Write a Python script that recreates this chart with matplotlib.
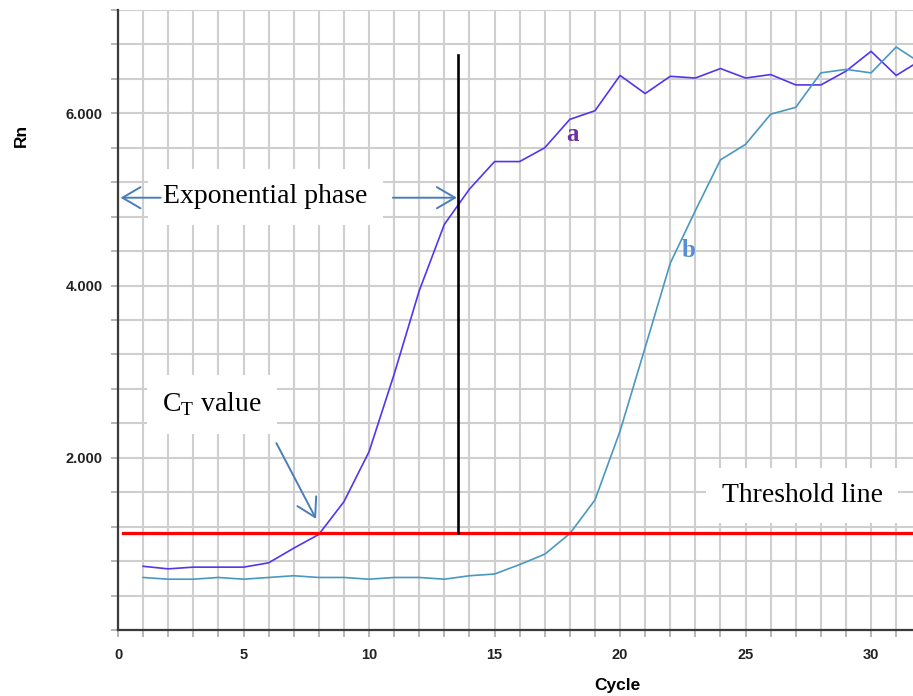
import numpy as np
import matplotlib
matplotlib.use('Agg')
import matplotlib.pyplot as plt
from matplotlib.ticker import MultipleLocator, FixedLocator, FixedFormatter

#%% data
cycles = np.arange(1, 33)
rn_a = [0.74, 0.71, 0.73, 0.73, 0.73, 0.78, 0.95, 1.11, 1.49, 2.07,
        2.97, 3.94, 4.71, 5.12, 5.44, 5.44, 5.60, 5.93, 6.03, 6.44,
        6.23, 6.43, 6.41, 6.52, 6.41, 6.45, 6.33, 6.33, 6.49, 6.72,
        6.44, 6.62]
rn_b = [0.61, 0.59, 0.59, 0.61, 0.59, 0.61, 0.63, 0.61, 0.61, 0.59,
        0.61, 0.61, 0.59, 0.63, 0.65, 0.76, 0.88, 1.12, 1.51, 2.31,
        3.28, 4.26, 4.87, 5.46, 5.64, 5.99, 6.07, 6.47, 6.51, 6.47,
        6.77, 6.58]
threshold = 1.13
ct_cut = 13.56
ct_top = 6.68
y_labels = ['2.000', '4.000', '6.000']
y_label_pos = [2, 4, 6]

serif = 'Liberation Serif'
plt.rcParams['font.family'] = ['Liberation Sans', 'DejaVu Sans']
plt.rcParams['mathtext.fontset'] = 'custom'
plt.rcParams['mathtext.rm'] = serif

fig = plt.figure(figsize=(9.13, 6.96), dpi=100)
ax = fig.add_axes([118/913, 1-630/696, 795/913, 620/696])

ax.plot(cycles, rn_a, color='#5236ee', lw=1.2, zorder=3)
ax.plot(cycles, rn_b, color='#4a98c2', lw=1.2, zorder=3)
ax.plot([0.2, 33], [threshold, threshold], color='#ff0000', lw=2.3, zorder=4)
ax.plot([ct_cut, ct_cut], [threshold, ct_top], color='black', lw=1.9, zorder=4)

ax.set_xlim(0, 31.67)
ax.set_ylim(0, 7.2)

ax.xaxis.set_major_locator(MultipleLocator(5))
ax.xaxis.set_minor_locator(MultipleLocator(1))
ax.yaxis.set_major_locator(FixedLocator(y_label_pos))
ax.yaxis.set_major_formatter(FixedFormatter(y_labels))
ax.yaxis.set_minor_locator(MultipleLocator(0.4))
ax.grid(which='both', color='#cfcfcf', lw=1.5, zorder=0)
ax.set_axisbelow(True)

for s in ['top', 'right']:
    ax.spines[s].set_visible(False)
for s in ['left', 'bottom']:
    ax.spines[s].set_color('#3a3a3a')
    ax.spines[s].set_linewidth(1.6)
ax.tick_params(which='both', length=5, width=1.2, color='#aaaaaa')
ax.tick_params(axis='x', pad=8, labelsize=10.5, labelcolor='#222222')
ax.tick_params(axis='y', pad=6, labelsize=10.5, labelcolor='#222222')
for lab in ax.get_xticklabels() + ax.get_yticklabels():
    lab.set_fontweight('bold')

ax.set_xlabel('Cycle', fontsize=12.5, fontweight='bold', va='center')
ax.xaxis.set_label_coords(0.628, -0.09)
ax.set_ylabel('Rn', fontsize=12.5, fontweight='bold', va='center')
ax.yaxis.set_label_coords(-0.121, 0.798)

box = dict(boxstyle='square,pad=0.55', facecolor='white', edgecolor='none')
arrow_c = '#4a7ebb'
aprops = dict(arrowstyle='->,head_length=0.65,head_width=0.38', color=arrow_c,
              lw=1.4, mutation_scale=20, shrinkA=0, shrinkB=0)

ax.text(5.86, 5.03, 'Exponential phase', family=serif, fontsize=20,
        ha='center', va='center', bbox=box, zorder=5)
ax.annotate('', xy=(0.1, 5.02), xytext=(1.7, 5.02), arrowprops=aprops, zorder=6)
ax.annotate('', xy=(13.5, 5.02), xytext=(10.95, 5.02), arrowprops=aprops, zorder=6)

ax.text(3.75, 2.62, r'C$_{\mathrm{T}}$ value', family=serif, fontsize=20,
        ha='center', va='center', bbox=box, zorder=5)
ax.annotate('', xy=(7.89, 1.29), xytext=(6.31, 2.17), arrowprops=aprops, zorder=6)

ax.text(27.25, 1.56, 'Threshold line', family=serif, fontsize=20,
        ha='center', va='center', bbox=box, zorder=5)

ax.text(18.1, 5.75, 'a', family=serif, fontsize=18, fontweight='bold',
        color='#7030a0', ha='center', va='center', zorder=5)
ax.text(22.75, 4.41, 'b', family=serif, fontsize=18, fontweight='bold',
        color='#558ed5', ha='center', va='center', zorder=5)

fig.savefig('out.png', dpi=100)
